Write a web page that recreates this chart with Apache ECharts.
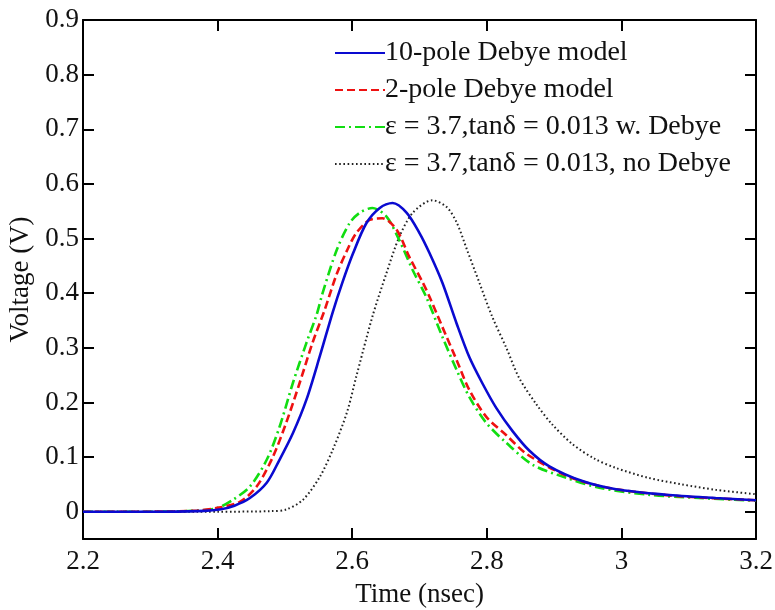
<!DOCTYPE html>
<html>
<head>
<meta charset="utf-8">
<script src="https://cdn.jsdelivr.net/npm/echarts@6/dist/echarts.min.js"></script>
<style>html,body{margin:0;padding:0;background:#fff}#c{width:775px;height:610px}</style>
</head>
<body>
<div id="c"></div>
<script>
var seriesNames = ["10-pole Debye model", "2-pole Debye model", "\u03b5 = 3.7,tan\u03b4 = 0.013 w. Debye", "\u03b5 = 3.7,tan\u03b4 = 0.013, no Debye"];
var xTicks = [2.2, 2.4, 2.6, 2.8, 3.0, 3.2];
var yTicks = [0, 0.1, 0.2, 0.3, 0.4, 0.5, 0.6, 0.7, 0.8, 0.9];

var blueT = [2.2, 2.3, 2.37, 2.403, 2.425, 2.448, 2.473, 2.492, 2.512, 2.532, 2.552, 2.571, 2.585, 2.601, 2.621, 2.641, 2.66, 2.681, 2.70, 2.715, 2.734, 2.755, 2.774, 2.793, 2.814, 2.838, 2.863, 2.893, 2.942, 2.992, 3.066, 3.14, 3.2];
var blueV = [0, 0, 0.001, 0.004, 0.011, 0.025, 0.053, 0.095, 0.144, 0.205, 0.285, 0.365, 0.418, 0.472, 0.528, 0.556, 0.565, 0.547, 0.51, 0.473, 0.419, 0.345, 0.283, 0.236, 0.19, 0.148, 0.112, 0.083, 0.056, 0.041, 0.031, 0.025, 0.021];

var redT = [2.2, 2.3, 2.37, 2.40, 2.433, 2.458, 2.482, 2.502, 2.522, 2.541, 2.559, 2.577, 2.593, 2.606, 2.626, 2.645, 2.666, 2.685, 2.705, 2.715, 2.734, 2.755, 2.774, 2.799, 2.829, 2.86, 2.918, 2.967, 3.016, 3.09, 3.2];
var redV = [0, 0, 0.002, 0.007, 0.018, 0.046, 0.10, 0.163, 0.236, 0.309, 0.369, 0.435, 0.48, 0.51, 0.534, 0.537, 0.516, 0.466, 0.419, 0.393, 0.338, 0.278, 0.223, 0.174, 0.14, 0.105, 0.066, 0.047, 0.037, 0.028, 0.021];

var greenT = [2.2, 2.3, 2.37, 2.40, 2.423, 2.448, 2.473, 2.492, 2.512, 2.532, 2.547, 2.556, 2.577, 2.596, 2.611, 2.63, 2.651, 2.67, 2.69, 2.71, 2.734, 2.755, 2.774, 2.799, 2.829, 2.868, 2.918, 2.967, 3.04, 3.115, 3.2];
var greenV = [0, 0, 0.002, 0.007, 0.022, 0.046, 0.095, 0.155, 0.236, 0.309, 0.36, 0.40, 0.479, 0.528, 0.547, 0.556, 0.54, 0.497, 0.442, 0.393, 0.32, 0.26, 0.21, 0.163, 0.126, 0.086, 0.062, 0.044, 0.031, 0.025, 0.02];

var blackT = [2.2, 2.4, 2.48, 2.502, 2.527, 2.552, 2.571, 2.592, 2.606, 2.63, 2.651, 2.67, 2.69, 2.719, 2.74, 2.755, 2.771, 2.789, 2.808, 2.829, 2.848, 2.874, 2.897, 2.927, 2.96, 2.992, 3.04, 3.09, 3.14, 3.2];
var blackV = [0, 0, 0.001, 0.004, 0.022, 0.064, 0.113, 0.181, 0.247, 0.357, 0.437, 0.503, 0.547, 0.57, 0.558, 0.53, 0.478, 0.419, 0.357, 0.3, 0.245, 0.196, 0.16, 0.124, 0.097, 0.08, 0.062, 0.05, 0.04, 0.032];

function pairs(t, v) { return t.map(function (x, i) { return [x, v[i]]; }); }

var FONT = '"Liberation Serif", "Times New Roman", serif';
var chart = echarts.init(document.getElementById('c'), null, {renderer: 'canvas'});

function xAx(pos, showLabel) {
  return {
    type: 'value', position: pos, min: 2.2, max: 3.2,
    name: showLabel ? 'Time (nsec)' : '', nameLocation: 'middle', nameGap: 42,
    nameTextStyle: {fontFamily: FONT, fontSize: 27, color: '#111'},
    axisLine: {show: true, onZero: false, lineStyle: {color: '#000', width: 2}},
    axisTick: {show: true, inside: true, length: 11, lineStyle: {color: '#000', width: 2}, customValues: xTicks},
    axisLabel: {show: showLabel, fontFamily: FONT, fontSize: 27, color: '#111', margin: 9, customValues: xTicks,
      formatter: function (v) { return String(Math.round(v * 10) / 10); }},
    splitLine: {show: false}
  };
}
function yAx(pos, showLabel) {
  return {
    type: 'value', position: pos, min: -0.05, max: 0.9,
    name: showLabel ? 'Voltage (V)' : '', nameLocation: 'middle', nameGap: 45, nameRotate: 90,
    nameTextStyle: {fontFamily: FONT, fontSize: 27, color: '#111'},
    axisLine: {show: true, onZero: false, lineStyle: {color: '#000', width: 2}},
    axisTick: {show: true, inside: true, length: 11, lineStyle: {color: '#000', width: 2}, customValues: yTicks},
    axisLabel: {show: showLabel, fontFamily: FONT, fontSize: 27, color: '#111', margin: 4, customValues: yTicks,
      formatter: function (v) { return String(Math.round(v * 10) / 10); }},
    splitLine: {show: false}
  };
}

var styles = [
  {color: '#0a0ad0', type: 'solid', width: 2.6},
  {color: '#ee1111', type: [8, 4], width: 2.6},
  {color: '#11dd11', type: [10, 4, 2, 4], width: 2.6},
  {color: '#222222', type: [1.6, 2.6], width: 2}
];
var datas = [pairs(blueT, blueV), pairs(redT, redV), pairs(greenT, greenV), pairs(blackT, blackV)];

chart.setOption({
  animation: false,
  backgroundColor: '#fff',
  grid: {left: 83, right: 19, top: 20, bottom: 71, containLabel: false, outerBoundsMode: 'none'},
  xAxis: [xAx('bottom', true), xAx('top', false)],
  yAxis: [yAx('left', true), yAx('right', false)],
  legend: {
    show: true, orient: 'vertical', left: 329, top: 34, itemGap: 9,
    itemWidth: 50, itemHeight: 14,
    itemStyle: {color: 'rgba(0,0,0,0)', borderColor: 'rgba(0,0,0,0)', borderWidth: 0, opacity: 0},
    textStyle: {fontFamily: FONT, fontSize: 28, color: '#111', padding: [0, 0, 0, -5]},
    data: seriesNames
  },
  series: seriesNames.map(function (n, i) {
    return {
      name: n, type: 'line', xAxisIndex: 0, yAxisIndex: 0,
      data: datas[i], smooth: 0.3,
      symbol: 'none', showSymbol: false,
      lineStyle: styles[i], itemStyle: {color: styles[i].color},
      z: 4 - i
    };
  })
});
</script>
</body>
</html>
